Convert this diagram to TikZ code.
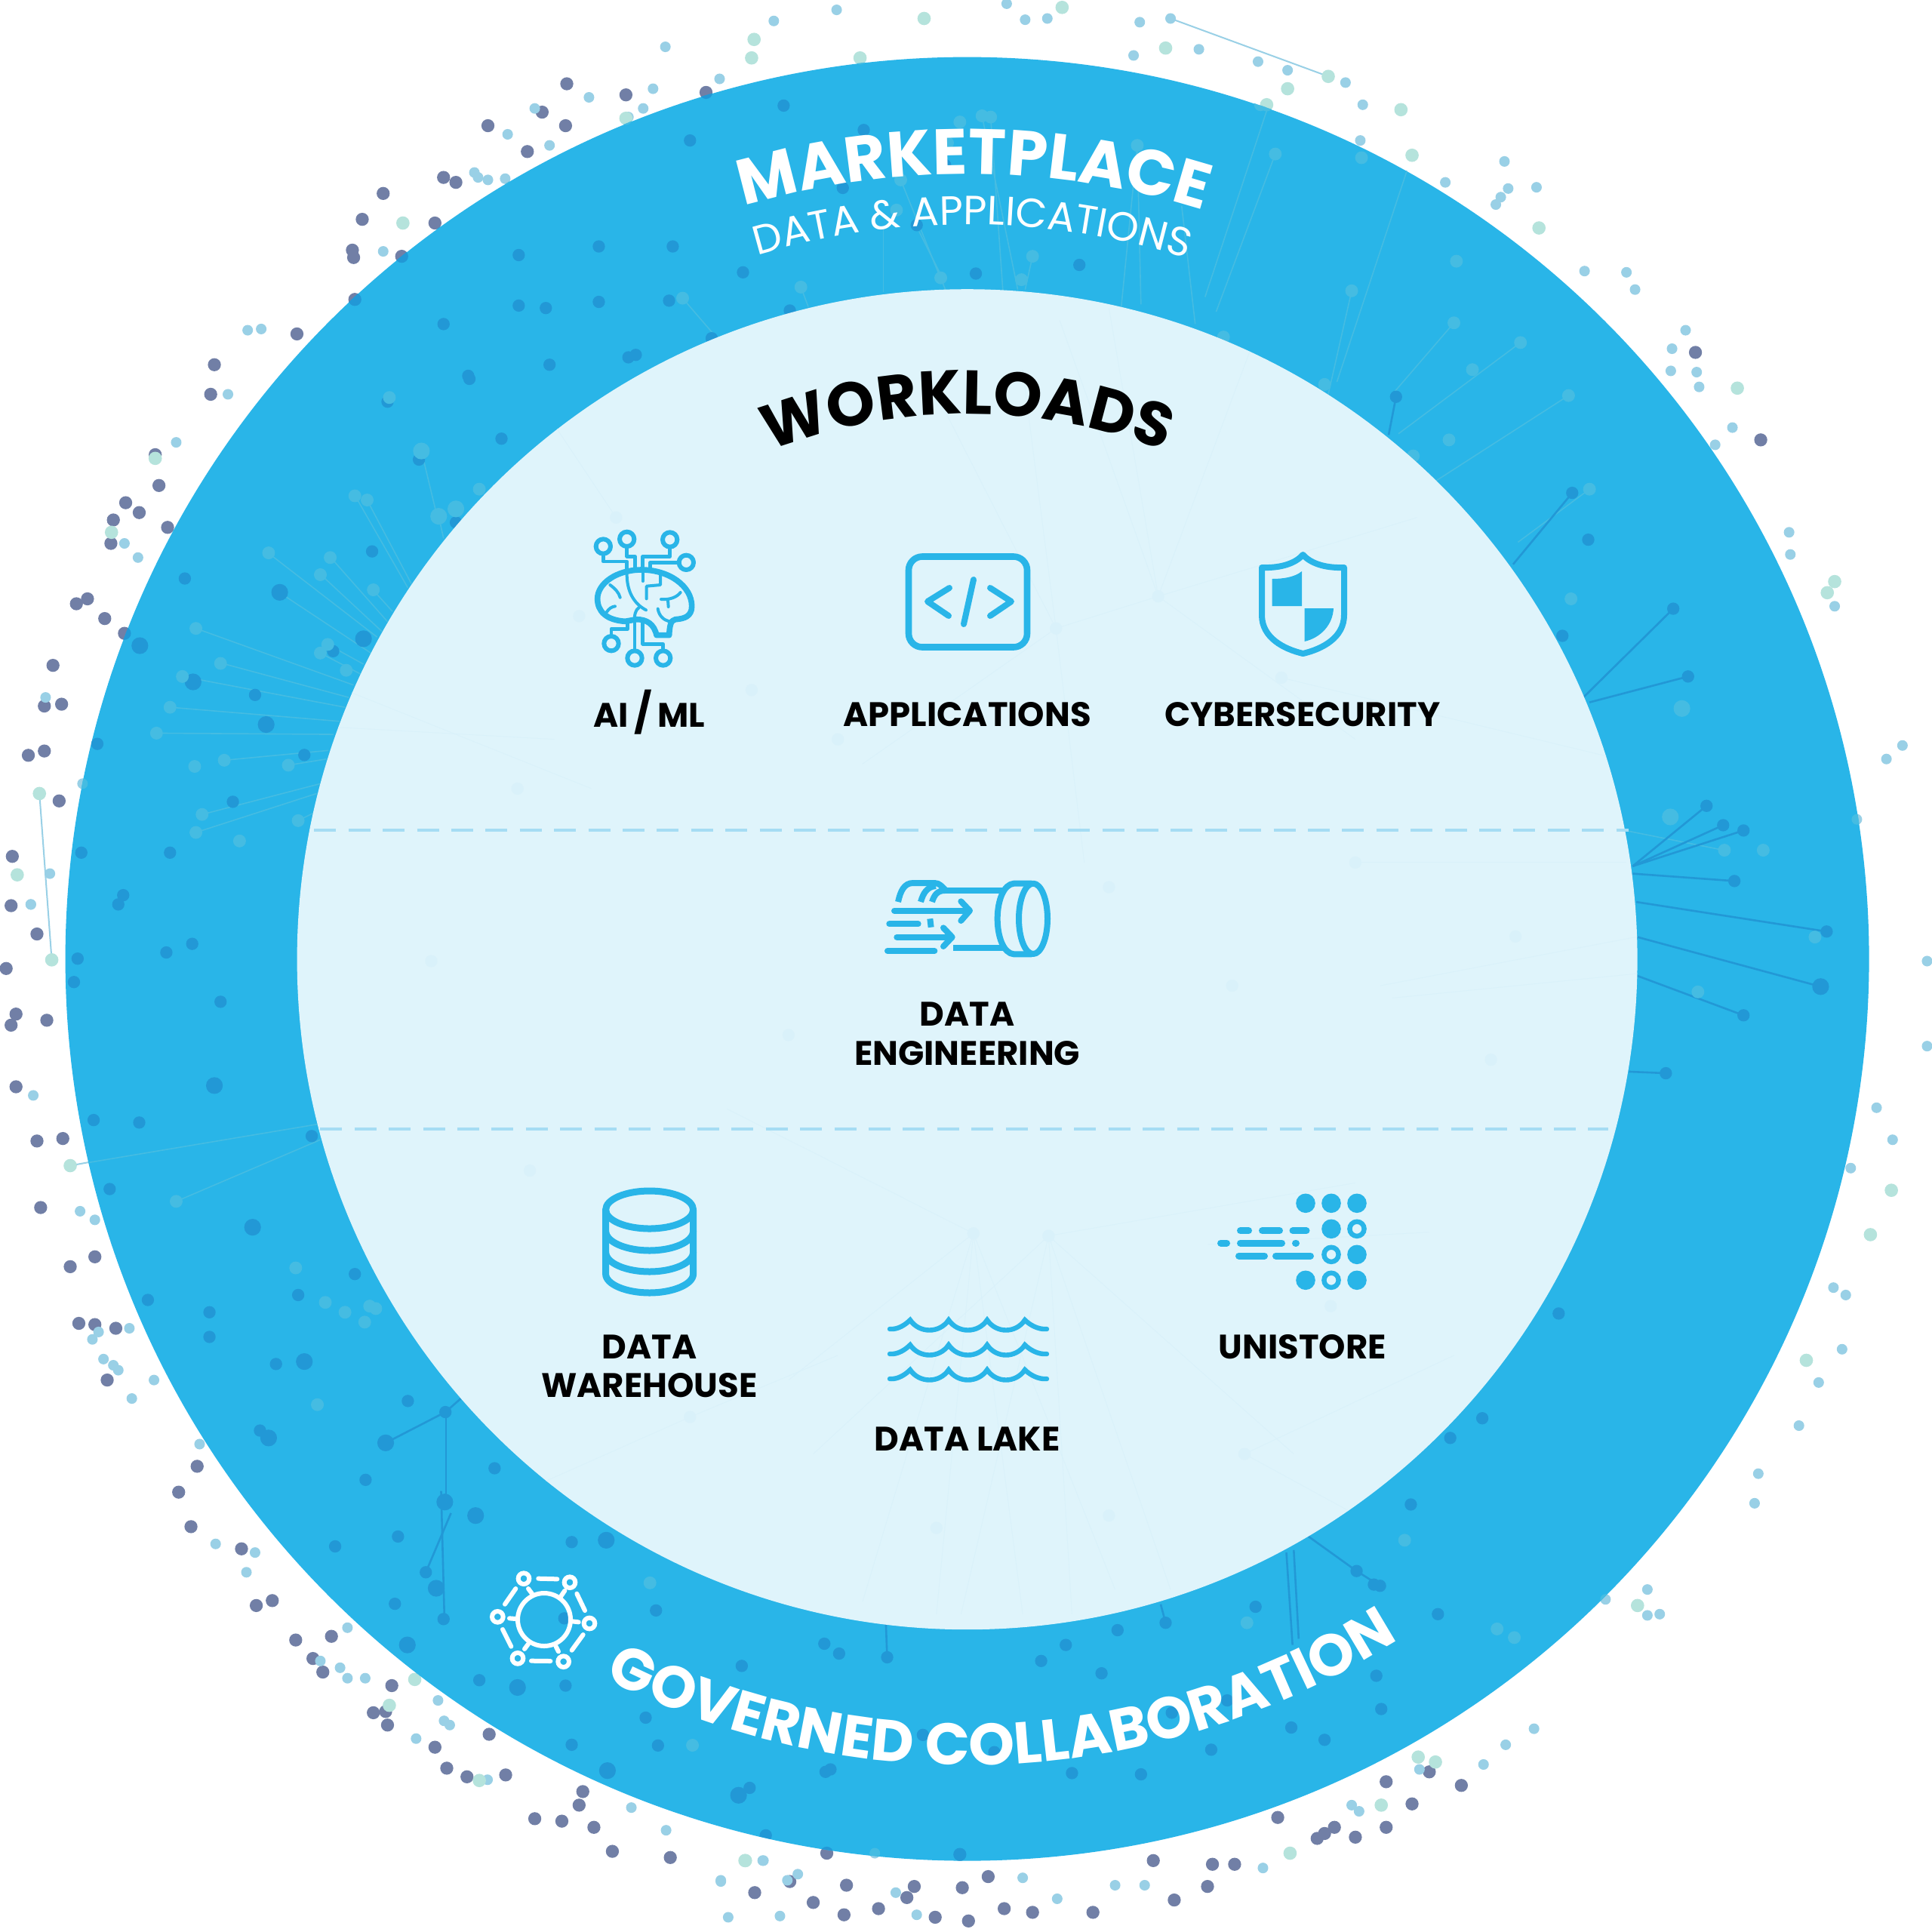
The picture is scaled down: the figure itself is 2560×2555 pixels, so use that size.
\documentclass[tikz,border=0pt]{standalone}
\usepackage{fontspec}
\setmainfont{Poppins}
\usetikzlibrary{decorations.text}
\definecolor{ringc}{HTML}{29B5E8}
\definecolor{innerc}{HTML}{DFF4FB}
\definecolor{slatec}{HTML}{717FA6}
\definecolor{lbluec}{HTML}{99D0E6}
\definecolor{tealc}{HTML}{B5E3DC}
\definecolor{ringdark}{HTML}{2298D6}
\definecolor{ringlight}{HTML}{45BCE2}
\definecolor{faintc}{HTML}{D9F1FA}
\definecolor{dashc}{HTML}{A5DCF3}
\tikzset{
 shown/.style={x=0.81633pt,y=-0.81633pt},
 lbl/.style={font=\bfseries\fontsize{22.5}{25.6}\selectfont,align=center,inner sep=0pt,text=black},
 ic/.style={draw=ringc,line cap=round,line join=round,fill=none},
}
\def\slateA{460/68,440/91,508/77,396/102,459/102,428/123,573/75,311/157,360/144,370/148,294/178,353/181,326/208,286/203,287/209,241/271,288/243,174/296,171/320,126/369,129/394,102/408,113/416,92/422,90/441,136/428,62/490,71/486,85/502,101/514,43/540,36/573,50/571.5,23/613,36/609.5,48/650,10/695,9/735,5/786,13/823,9/832,38/828,13/882,30/926,51/924,33/980,57/1028,77/1020,64/1074,77/1075,94/1078,87/1120,30/758,160/1190,145/1211,155/1239,196/1257,208/1303,221/1299,240/1331,269/1328,254/1346,262/1357,318/1368,303/1390,313/1389,314.5/1400,353/1418,397/1407.5,362.6/1435,379/1442,410.4/1440.5,473/1454,470/1465,434/1476,456/1478,482/1483,497/1502.5,544/1507.5,641/1527,612.5/1536,660/1544,671/1504,687/1530,685/1554,713/1549,736/1540,742/1531,759/1556,786/1559,781/1532,779/1505,802/1523,815/1549,838/1552,887/1552,936/1510,953/1542,980/1531,984/1513,1002/1513,1037/1475,1069/1492,1075/1488,1083/1483,1100/1491,1125/1483,1146/1464,1125/1446,1160/1438,1186/1449,1376/286,1429/357}
\def\lblueA{478/79,434/88,446/118,540/38,628/17,679/8,584/64,510/95,522/88,530/72,412/109,396/146,385/140,388/144,410/145,311/204,201/268,212/267,185/320,143/359,101/441,112/452.5,37/566,40.5/709,25/734,67/636,817/3,832/16,850/15,925/18,950/15,973/40,920/45,1021/50,1045/57,1106/85,1092/67,1104/114,1173/148,1221/131,1224/153,1247/152,1218/160,1214/166,1286/220,1320/221,1327/235,1368/268,1357/283,1377/302,1356/301,1379/314,1406/347,1392/361,1452/432,1453/450,1489/492,1531/616,1544/605,1507/665,1564/780,1564/849,1523/899,1536/925,1502/948,1488/1045,1498/1051,1495/1095,1476/1122,1460/1157,1427/1196,1424/1220,1303/1298,1337/1290,1347/1310,1337/1311,1245/1403,1222/1416,1204/1432,1152/1436,1097/1465,1103/1470,1025/1516,929/1530,905/1530,858/1541,830/1524,744/1554,727/1536,710/1504,639/1526,633/1555,619/1510,585/1526,591/1556,27/889,65/983,77/990,105/1078,80/1081,75/1087,84/1103,92/1108,96/1112,107/1135,125/1120,162/1172,175/1253,207/1260,200/1276,282/1321,260/1348,276/1353.5,282/1362,296.4/1362,355.5/1380,360.4/1396.6,365/1400,337.7/1411,395.7/1444.4,512.4/1467,540.6/1485.4,619.6/1510,585/1527,647.5/1521,25/734}
\def\tealA{610/47,698/47,750/15,612/32,862/6,327/181,508/96,126/372,90.5/432,32/644,14/710,42/779,946/39,1045/72,1028/85,1078/62,1137/89,1146/126,1249/185,1410/315,1489/472,1483/481,1535/966,1518/1002,1466/1104,1329/1303,1165/1430,1151/1426,1121/1465,1047/1504,605/1510,57/946,336.6/1363,316/1384,389/1445,604.6/1510}
\def\darkA{381/307.5,314.5/326,407/356,340/373,370/424,302/447.5,150/469.5,270.4/528.5,207/564,79/603.7,247/612.7,189/650.7,66/692,138/692,100/726.5,96/734,248/1106,331/1137,361.5/1146,401.4/1191.6,296.7/1201,323/1247,272/1255,464/1251.5,345.6/1276,320.5/1301.6,360/1314,458/1313.4,532.4/1307,669/1334,602/1352,389/1363.6,459/1368,524/1394,464/1416,534/1416.6,608.4/1451,621.5/1489.5,674/1436,636/85.7,560/114,701/105.5,684/152.5,744/182.7,603/221,792/222,876/215,641/252,577.6/274.5,767/134,546/200,486/200,421/207,486/245,543/244,443/250,421/248,360/263,446/296,510/290,516/288,380/305,1133/322,1276/400,1289/438,1358/494,1268/516,1370/549,1385/654,1398.5/669.7,1415/674,1407.6/715,1482.5/756,1415/824,1352/871,1265/1066,1203/1151,1177/1167,1145/1221,1167/1310,1115/1286,1120/1287,1101/1275,1019/1304,946/1317,907/1323,865/1335,845/1348,720/1345,681/1342,1121/1387,1117/1360,1075/1412,1048/1402,996/1380,983/1420,951/1390,894/1358,870/1439,926/1440,807/1422,749/1408,670/1438,628/1388,63/778,60/797,135/773,156/766,179/813,76/909,113/911,89/965,253/922,170/1065,242/1051,170/1085,120/1055,224/1107,288/1034,211/1161}
\def\darkB{227/480.7,295/518.4,113.5/524,156.7/553.4,216/588,313/1171,361/1219,386/1230,492/1250,354/1289,330.6/1335,420/1369.5,493/1437,599.4/1457,1477.6/800.7,174/881,205/996,218/1167,247/1105}
\def\lightA{316/322.6,389/397,288/402.4,298/405.8,218/448.7,268/452.5,260/466.4,303/478.7,159/510,266/523,260/530,281/544,179/538.4,148/549,138/574,127/595,182/617,158/622,234/621,164/661,159/675.6,242/666,194.4/682.5,797/94,804/95,779/99,923/118,1035/125,838/208,763.5/225.5,829/227,650/233,554/242,731/146,727.6/170.5,993/273.5,769/116,1234/278,1273/321,1180/262,1097/236,1075/312,1147/370,1176/357,1290/397,1275/486,1225/520,1195/300,1182/212,1105/128,1023/85,1165/520,1399.5/690,1431/690,1473/760.5,1378/805,1215/1322,1229/1329,1012/1317,1140/1250,240/1029,280/1065,296/1073,300/1060,305/1062,143/975,264/1057,527.5/1284.6,562/1416.4,257.6/1140}
\def\lightB{342/366,356/419,370/413,1355.6/663,1365/575}
\def\darkLines{361.5/1146/374/1135,313/1171/361.5/1146,362/1146/362/1219,358/1210/360.7/1314,366/1228/345.6/1276,1133/322/1127/353,1276/400/1228/458,1358/494/1285/566,1370/549/1290/570,1385/654/1325/703,1398.5/669.7/1325/703,1415/674/1325/703,1407.6/715/1325/709,1482.5/756/1328/732,1477.6/800.7/1329/760.5,1415/824/1329/792,1352/871/1322/869.7,1101/1275/1062/1247,1120/1287/1101/1275,1050/1258/1054/1330,1044/1260/1049/1335,946/1317/942/1302,720/1345/719/1318}
\def\lightLines{288/402/331/477,298/406/334/474,356/419/360/437,342/366/354/416,218/449/306/517,268/452/314.5/504.5,260/466/310/512.5,303/479/318.6/496.3,227/481/301/530,266/523/295/539,260/530/292.6/547,159/510/287/556,179/538/283/566,148/549/280/574,138/574/275.6/585.4,127/595/270.7/596,182/617/266.6/609,234/621/265/616,164/661/260/636,159/675.6/257/644,242/666/254/660,1028/90/978/241,1035/125/987/253,763.5/225.5/768/237,838/208/832/235,797/94/826/235,804/95/814/237,731/146/763/225,650/233/656/249,554/242/579/271,923/118/910/249,923/118/926/247,959/167/970/263,717/186/717/237,746/188/763/222,1234/278/1135/352,1273/321/1158/395,1180/262/1130/320,1290/397/1232/440,1097/236/1078/320,1146/126/1085/310,1319/674/1399/690,57/946/260/912,143/975/260/925}
\def\faintLines{790/1001/700/1300,790/1001/760/1310,790/1001/830/1310,790/1001/590/900,790/1001/640/1120,790/1001/905/1290,851/1003/780/1310,851/1003/870/1310,851/1003/950/1290,851/1003/1100/960,851/1003/1050/1180,851/1003/660/1180,940/484/900/250,940/484/860/260,940/484/1020/270,940/484/1100/600,940/484/1150/420,857/510/830/300,857/510/760/320,857/510/940/484,857/510/700/620,857/510/880/700,1040/550/1330/620,1100/700/1320/700,1120/800/1330/760,1130/810/1330/790,280/560/480/640,270/590/450/600,560/1150/380/1230,560/1150/680/1100,1010/1180/1120/1240,1010/1180/1180/1100,420/300/500/420,980/1010/1160/1000}
\def\faintDots{790/1001,851/1003,940/484,857/510,1100/700,1040/550,560/1150,1010/1180,500/420,420/640,640/840,1000/800,610/560,680/600,1080/1060,760/1240,900/1230,470/500,350/780,430/950,1230/760,1210/860,900/720}
\begin{document}
\begin{tikzpicture}[x=0.5pt,y=-0.5pt]
\useasboundingbox (0,0) rectangle (2560,2555);
\fill[white] (0,0) rectangle (2560,2555);
% outer dots
\begin{scope}[shown]
\foreach \a/\b/\c/\d in {32/644/42/779,950/15/1078/62}
  {\draw[lbluec,line width=1pt] (\a,\b) -- (\c,\d);}
\draw[lbluec,line width=1pt] (57,946) -- (90,940);
\foreach \x/\y in \slateA {\fill[slatec] (\x,\y) circle[radius=5.3];}
\foreach \x/\y in \lblueA {\fill[lbluec] (\x,\y) circle[radius=4.3];}
\foreach \x/\y in \tealA {\fill[tealc] (\x,\y) circle[radius=5.4];}
\end{scope}
\node[circle,fill=ringc,minimum size=1195pt,inner sep=0pt] (ring) at (1281.6,1270.6) {};
\begin{scope}[shown]
\clip (785,778) circle[radius=732];
\foreach \a/\b/\c/\d in \lightLines {\draw[ringlight,line width=0.8pt] (\a,\b) -- (\c,\d);}
\foreach \a/\b/\c/\d in \darkLines {\draw[ringdark,line width=1.3pt] (\a,\b) -- (\c,\d);}
\foreach \x/\y in \slateA {\fill[ringdark] (\x,\y) circle[radius=5.3];}
\foreach \x/\y in \darkA {\fill[ringdark] (\x,\y) circle[radius=5];}
\foreach \x/\y in \darkB {\fill[ringdark] (\x,\y) circle[radius=6.8];}
\foreach \x/\y in \lblueA {\fill[ringlight] (\x,\y) circle[radius=4.3];}
\foreach \x/\y in \tealA {\fill[ringlight] (\x,\y) circle[radius=5.4];}
\foreach \x/\y in \lightA {\fill[ringlight] (\x,\y) circle[radius=5.2];}
\foreach \x/\y in \lightB {\fill[ringlight] (\x,\y) circle[radius=6.8];}
\end{scope}
\node[circle,fill=innerc,minimum size=888pt,inner sep=0pt] (inner) at (1281.6,1271.2) {};
\begin{scope}[shown]
\begin{scope}
\clip (785,778.6) circle[radius=544];
\foreach \a/\b/\c/\d in \faintLines {\draw[faintc,line width=0.4pt] (\a,\b) -- (\c,\d);}
\foreach \x/\y in \faintDots {\fill[faintc] (\x,\y) circle[radius=5];}
\end{scope}
\draw[dashc,line width=2pt,dash pattern=on 14.5pt off 8.2pt] (255,674) -- (1322,674);
\draw[dashc,line width=2pt,dash pattern=on 14.5pt off 8.2pt] (260,916) -- (1305,916);
\end{scope}
% curved titles
\begin{scope}[x=0.5pt,y=0.5pt]
\path[decorate,decoration={text along path,text align=center,text color=white,
  text={|\bfseries\fontsize{42.5}{42.5}\selectfont|MARKETPLACE}}]
  (1281.6,-1270.6) ++(139.5:1040) arc[start angle=139.5,end angle=39.5,radius=1040];
\path[decorate,decoration={text along path,text align=center,text color=white,
  text={|\fontsize{27}{27}\selectfont|DATA {\&} APPLICATIONS}}]
  (1281.6,-1270.6) ++(139.6:973) arc[start angle=139.6,end angle=39.6,radius=973];
\path[decorate,decoration={text along path,text align=center,text color=black,
  text={|\bfseries\fontsize{41}{41}\selectfont|WORKLOADS}}]
  (1281.6,-1270.6) ++(140:722) arc[start angle=140,end angle=40,radius=722];
\path[decorate,decoration={text along path,text align=center,text color=white,
  text={|\bfseries\fontsize{38.8}{38.8}\selectfont|GOVERNED COLLABORATION}}]
  (1281.6,-1270.6) ++(197.8:1068) arc[start angle=197.8,end angle=347.8,radius=1068];
\end{scope}
% labels
\begin{scope}[shown]
\node[lbl,anchor=base] (aiml) at (527,590) {AI\,{\fontsize{26}{25}\selectfont/}\,ML};
\node[lbl] (apps) at (785,580) {APPLICATIONS};
\node[lbl] (cyber) at (1057,580) {CYBERSECURITY};
\node[lbl] (deng) at (785,839) {DATA\\ENGINEERING};
\node[lbl] (dwh) at (527,1109) {DATA\\WAREHOUSE};
\node[lbl] (uni) at (1057,1093) {UNISTORE};
\node[lbl] (dlake) at (785,1168) {DATA LAKE};
\end{scope}
% brain icon
\begin{scope}[shift={(740,660)},x=0.16667pt,y=-0.16667pt]
\draw[ic,line width=3.8pt] (265,490) .. controls (190,485) and (155,450) .. (155,400) .. controls (155,340) and (230,285) .. (330,285) .. controls (440,285) and (530,350) .. (530,430) .. controls (530,470) and (500,480) .. (465,482) .. controls (445,485) and (442,510) .. (440,545) -- (390,545) .. controls (380,500) and (350,482) .. (310,482) -- (265,490);
\foreach \x/\y in {178/192,272/163,443/165,508/256,210/578,303/636,416/636} {\draw[ic,line width=3pt] (\x,\y) circle[radius=29];}
\draw[ic,line width=2.3pt] (178,221) -- (178,252) -- (272,252) -- (272,280);
\draw[ic,line width=2.3pt] (272,192) -- (272,232) -- (305,232) -- (305,275);
\draw[ic,line width=2.3pt] (443,194) -- (443,232) -- (335,232) -- (335,280);
\draw[ic,line width=2.3pt] (479,256) -- (365,256) -- (365,280);
\draw[ic,line width=2.3pt] (210,549) -- (210,520) -- (275,520) -- (275,495);
\draw[ic,line width=2.3pt] (303,607) -- (303,495);
\draw[ic,line width=2.3pt] (416,607) -- (416,580) -- (335,580) -- (335,490);
\draw[ic,line width=2pt] (272,295) .. controls (270,370) and (300,420) .. (348,445);
\draw[ic,line width=2pt] (335,295) -- (335,330);
\draw[ic,line width=2pt] (405,305) -- (405,345) -- (350,350) -- (350,400);
\draw[ic,line width=2pt] (205,345) .. controls (225,360) and (240,375) .. (245,395);
\draw[ic,line width=2pt] (190,455) .. controls (200,440) and (210,432) .. (225,430);
\draw[ic,line width=2pt] (408,402) .. controls (440,405) and (470,395) .. (485,375);
\draw[ic,line width=2pt] (435,405) -- (437,432);
\draw[ic,line width=2pt] (395,440) .. controls (400,470) and (420,485) .. (440,490);
\draw[ic,line width=2pt] (320,435) .. controls (305,445) and (302,465) .. (302,490);
\end{scope}
% applications icon
\draw[ic,line width=4.3pt,rounded corners=9pt] (1204,737.5) rectangle (1361,857.5);
\draw[ic,line width=4pt] (1258,779) -- (1229,797) -- (1257,816);
\draw[ic,line width=4pt] (1312,779) -- (1340,797) -- (1312,816);
\draw[ic,line width=4pt] (1290,768) -- (1277,827);
% shield icon
\draw[ic,line width=4pt] (1672,752) .. controls (1700,753) and (1718,745) .. (1726.5,735) .. controls (1735,745) and (1753,753) .. (1781,752) -- (1781,815) .. controls (1781,845) and (1752,860) .. (1726.5,866) .. controls (1701,860) and (1672,845) .. (1672,815) -- cycle;
\fill[ringc] (1685.5,767) .. controls (1700,767) and (1715,765) .. (1725,757) -- (1725,803) -- (1685.5,803) -- cycle;
\fill[ringc] (1728.5,806) -- (1767,806) .. controls (1766,828) and (1750,845) .. (1728.5,850) -- cycle;
% data engineering icon
\begin{scope}[shift={(1140,1130)},x=0.16667pt,y=-0.16667pt]
\draw[ic,line width=4pt] (687,262) ellipse[x radius=57,y radius=140];
\draw[ic,line width=4pt] (680,122) -- (610,122) .. controls (570,125) and (545,190) .. (545,262) .. controls (545,335) and (570,400) .. (610,403) -- (680,403);
\draw[ic,line width=4pt,line cap=butt] (330,150) -- (570,150);
\draw[ic,line width=4pt,line cap=butt] (370,378) -- (570,378);
\draw[ic,line width=4pt,line cap=butt] (150,195) .. controls (160,150) and (175,120) .. (210,120) -- (295,120) .. controls (315,120) and (325,135) .. (340,150);
\draw[ic,line width=4pt,line cap=butt] (240,195) .. controls (250,160) and (265,135) .. (300,132);
\draw[ic,line width=4pt,line cap=butt] (285,195) .. controls (293,170) and (305,150) .. (335,150);
\draw[ic,line width=4pt] (135,230) -- (430,230);
\draw[ic,line width=4pt] (400,193) -- (435,230) -- (400,270);
\draw[ic,line width=4pt] (115,283) -- (230,283);
\draw[ic,line width=4pt] (145,335) -- (360,335);
\draw[ic,line width=4pt] (330,298) -- (365,335) -- (330,372);
\draw[ic,line width=4pt] (108,390) -- (295,390);
\draw[ic,line width=4pt,line cap=butt] (277,262) -- (281,296);
\end{scope}
% database icon
\draw[ic,line width=4.5pt] (860.6,1603) ellipse[x radius=58,y radius=25];
\draw[ic,line width=4.5pt] (802.6,1603) -- (802.6,1688) .. controls (802.6,1702) and (830,1713) .. (860.6,1713) .. controls (891,1713) and (918.6,1702) .. (918.6,1688) -- (918.6,1603);
\draw[ic,line width=4.5pt] (802.6,1631) .. controls (802.6,1646) and (830,1657) .. (860.6,1657) .. controls (891,1657) and (918.6,1646) .. (918.6,1631);
\draw[ic,line width=4.5pt] (802.6,1659) .. controls (802.6,1674) and (830,1685) .. (860.6,1685) .. controls (891,1685) and (918.6,1674) .. (918.6,1659);
% waves
\foreach \dy in {0,33,66}{
\draw[ic,line width=3.2pt,line cap=round,line join=miter,yshift=-\dy*0.5pt] (1179,1761) .. controls (1190,1762) and (1200,1755) .. (1206,1749) .. controls (1218,1767) and (1245,1767) .. (1257,1749) .. controls (1269,1767) and (1296,1767) .. (1308,1749) .. controls (1320,1767) and (1346,1767) .. (1358,1749) .. controls (1364,1755) and (1375,1762) .. (1387,1761);
}
% unistore
\foreach \x/\y in {1730/1594.3,1764/1594.3,1798/1594.3,1764/1628.3,1798/1662.3,1730/1696.3,1798/1696.3} {\fill[ringc] (\x,\y) circle[radius=12.8];}
\foreach \x/\y in {1798/1628.3,1764/1662.3,1764/1696.3} {\draw[ringc,line width=3.2pt] (\x,\y) circle[radius=9.6];}
\foreach \a/\b/\y in {1643.5/1654.5/1630.7,1672.5/1695.5/1630.7,1713/1731/1630.7,1617.5/1625.5/1647,1643.5/1698.5/1647,1716.5/1717.5/1647,1641.5/1675.5/1664,1690.5/1736.5/1664} {\draw[ringc,line width=4.5pt,line cap=round] (\a,\y) -- (\b,\y);}
% collaboration icon
\begin{scope}[shift={(620,2050)},x=0.16667pt,y=-0.16667pt]
\draw[white,line width=3pt] (303,288) circle[radius=105];
\foreach \x/\y in {222/125,405/140,483/303,380/455,198/442,118/277} {\draw[white,line width=3pt] (\x,\y) circle[radius=22];}
\foreach \a/\b/\c/\d in {280/125/355/127,433/185/465/252,458/348/413/410,328/453/252/452,172/395/138/327,147/227/190/165,240/165/255/185,385/173/370/195,440/298/415/295,360/415/350/395,225/405/240/385,165/283/190/285}
  {\draw[white,line width=3pt,line cap=round] (\a,\b) -- (\c,\d);}
\end{scope}
\end{tikzpicture}
\end{document}
